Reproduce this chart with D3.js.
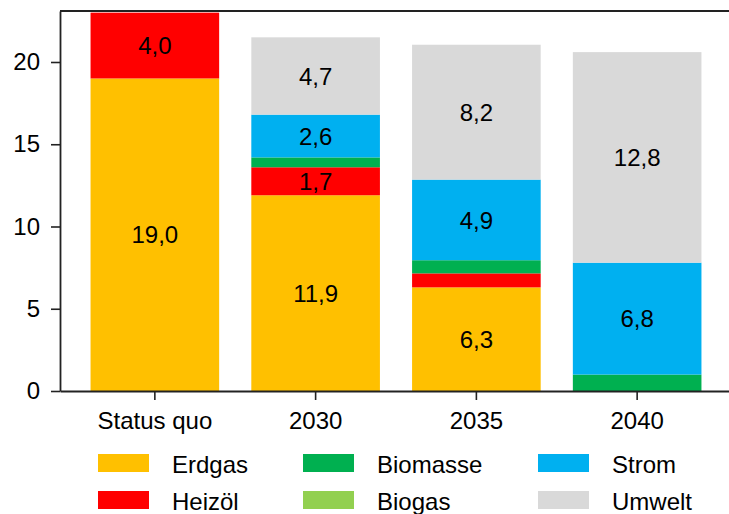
<!DOCTYPE html>
<html>
<head>
<meta charset="utf-8">
<script src="https://cdn.jsdelivr.net/npm/d3@7"></script>
<style>
  body { margin: 0; background: #fff; }
  text { font-family: "Liberation Sans", Arial, sans-serif; fill: #000; }
</style>
</head>
<body>
<svg id="chart" width="729" height="514"></svg>
<script>
// data
const categories = ["Status quo", "2030", "2035", "2040"];
const carriers = ["Erdgas", "Heizöl", "Biomasse", "Biogas", "Strom", "Umwelt"];
const erdgas   = [19.0, 11.9, 6.3, 0];
const heizoel  = [4.0, 1.7, 0.85, 0];
const biomasse = [0, 0.6, 0.8, 1.0];
const biogas   = [0, 0, 0, 0];
const strom    = [0, 2.6, 4.9, 6.8];
const umwelt   = [0, 4.7, 8.2, 12.8];
const yTicks = [0, 5, 10, 15, 20];
const colors = ["#FFC000", "#FF0000", "#00B050", "#92D050", "#00B0F0", "#D9D9D9"];

const series = [erdgas, heizoel, biomasse, biogas, strom, umwelt];
const rows = categories.map((c, i) => {
  const r = {cat: c};
  carriers.forEach((k, j) => r[k] = series[j][i]);
  return r;
});

const svg = d3.select("#chart");
const plotL = 60, plotR = 732, plotT = 11, plotB = 391;
const fontSize = "24px";

const x = d3.scaleBand()
  .domain(categories)
  .range([plotL, plotR])
  .paddingInner(0.2)
  .paddingOuter(0.19);

const y = d3.scaleLinear()
  .domain([0, 23.1])
  .range([plotB, plotT]);

const color = d3.scaleOrdinal().domain(carriers).range(colors);

const stacked = d3.stack().keys(carriers)(rows);
const fmt = v => d3.format(".1f")(v).replace(".", ",");

// bars
const layers = svg.append("g").selectAll("g")
  .data(stacked)
  .join("g")
  .attr("fill", d => color(d.key));

layers.selectAll("rect")
  .data(d => d)
  .join("rect")
  .attr("x", d => x(d.data.cat))
  .attr("width", x.bandwidth())
  .attr("y", d => y(d[1]))
  .attr("height", d => y(d[0]) - y(d[1]));

// value labels inside the bigger segments
layers.selectAll("text")
  .data(d => d.filter(s => s[1] - s[0] >= 1.5))
  .join("text")
  .attr("x", d => x(d.data.cat) + x.bandwidth() / 2)
  .attr("y", d => (y(d[0]) + y(d[1])) / 2)
  .attr("dy", "0.36em")
  .attr("text-anchor", "middle")
  .style("font-size", fontSize)
  .text(d => fmt(d[1] - d[0]));

// axes
const yAxis = svg.append("g")
  .attr("transform", "translate(" + plotL + ",0)")
  .call(d3.axisLeft(y).tickValues(yTicks).tickSize(9).tickPadding(11).tickSizeOuter(0));

const xAxis = svg.append("g")
  .attr("transform", "translate(0," + plotB + ")")
  .call(d3.axisBottom(x).tickSize(9).tickPadding(12).tickSizeOuter(0));

[yAxis, xAxis].forEach(a => {
  a.selectAll("text").style("font-size", fontSize).attr("fill", "#000");
  a.selectAll("line").attr("stroke", "#222").attr("stroke-width", 1.6);
  a.select(".domain").attr("stroke", "#222").attr("stroke-width", 1.8);
});

// top and right spines
svg.append("line")
  .attr("x1", plotL).attr("x2", plotR).attr("y1", plotT).attr("y2", plotT)
  .attr("stroke", "#222").attr("stroke-width", 1.8);
svg.append("line")
  .attr("x1", plotR).attr("x2", plotR).attr("y1", plotT).attr("y2", plotB)
  .attr("stroke", "#222").attr("stroke-width", 1.8);

// legend, three columns of two
const legend = svg.append("g");
const colX = [98, 303, 538];
const rowY = [454, 491];
carriers.forEach((k, i) => {
  const gx = colX[Math.floor(i / 2)], gy = rowY[i % 2];
  legend.append("rect")
    .attr("x", gx).attr("y", gy)
    .attr("width", 51).attr("height", 18)
    .attr("fill", color(k));
  legend.append("text")
    .attr("x", gx + 74).attr("y", gy + 19)
    .style("font-size", fontSize)
    .text(k);
});
</script>
</body>
</html>
